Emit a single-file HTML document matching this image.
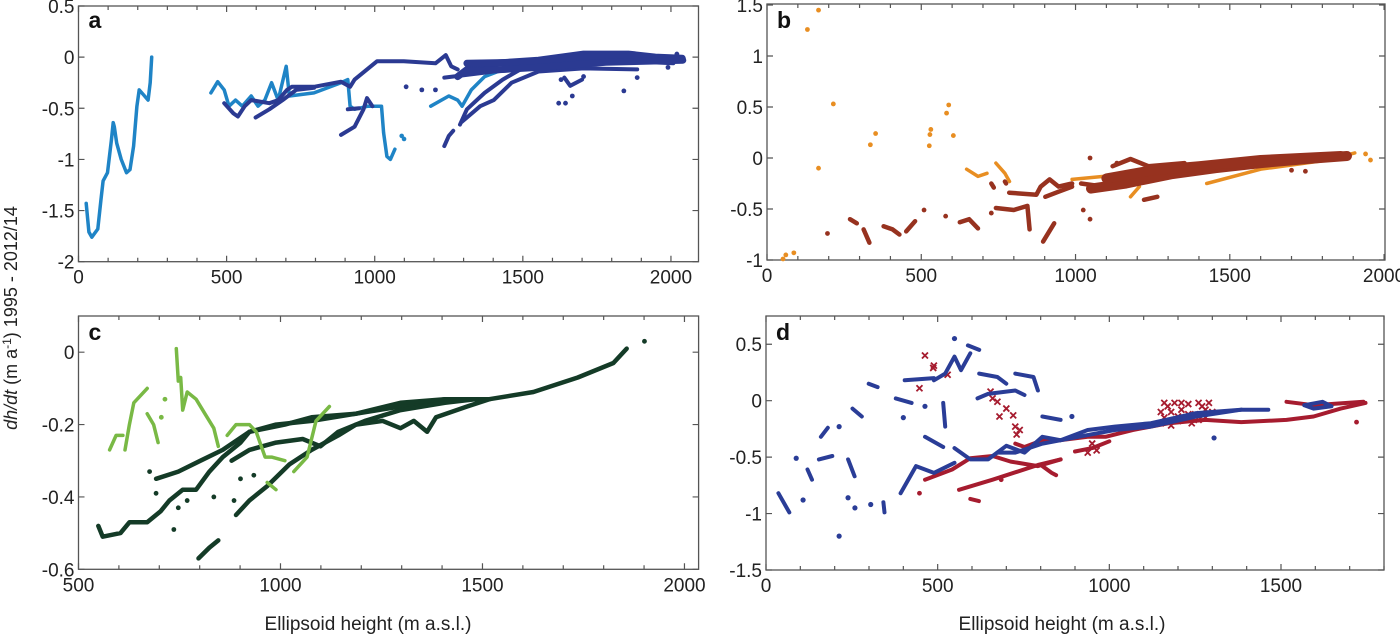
<!DOCTYPE html>
<html><head><meta charset="utf-8"><style>
html,body{margin:0;padding:0;background:#fff;}
svg{display:block;font-family:"Liberation Sans",Arial,sans-serif;}
</style></head><body>
<svg id="fig" width="1400" height="636" viewBox="0 0 1400 636" xmlns="http://www.w3.org/2000/svg">
<text transform="translate(17,318) rotate(-90)" text-anchor="middle" font-size="18" fill="#222"><tspan font-style="italic">dh/dt</tspan> (m a<tspan dy="-6" font-size="12">-1</tspan><tspan dy="6">) 1995 - 2012/14</tspan></text>
<text x="368" y="630" text-anchor="middle" font-size="19" fill="#222">Ellipsoid height (m a.s.l.)</text>
<text x="1062" y="630" text-anchor="middle" font-size="19" fill="#222">Ellipsoid height (m a.s.l.)</text>
</svg>
<script>
// ---------- data: panel a ----------
const aLightSegs = [
 [[26,-1.43],[35,-1.71],[45,-1.76],[65,-1.68],[76,-1.39],[83,-1.21],[98,-1.13],[111,-0.81],[117,-0.64],[121,-0.68],[129,-0.84],[144,-1.0],[162,-1.13],[174,-1.1],[186,-0.87],[197,-0.48],[205,-0.32],[220,-0.37],[235,-0.42],[242,-0.25],[247,0.0]],
 [[447,-0.35],[470,-0.24],[492,-0.32],[508,-0.48],[530,-0.42],[553,-0.48],[583,-0.38],[606,-0.48],[629,-0.42],[652,-0.25],[674,-0.42],[701,-0.09],[712,-0.38],[795,-0.35],[886,-0.25],[909,-0.22],[917,-0.48],[932,-0.51],[977,-0.48],[1023,-0.48],[1030,-0.74],[1041,-0.97],[1053,-1.0],[1068,-0.9]],
 [[1189,-0.48],[1250,-0.38],[1280,-0.42],[1295,-0.48],[1326,-0.32],[1371,-0.19],[1462,-0.09]]
];
const aLightDots = [[1091,-0.77],[1099,-0.8]];
const aDarkSegs = [
 [[492,-0.45],[523,-0.55],[538,-0.58],[561,-0.48],[583,-0.42],[644,-0.45],[674,-0.42],[704,-0.32],[720,-0.29],[795,-0.29],[886,-0.24],[917,-0.29],[932,-0.22],[1008,-0.04],[1098,-0.04],[1205,-0.06],[1240,0.02],[1258,-0.09],[1280,-0.12]],
 [[598,-0.59],[644,-0.51],[689,-0.42],[735,-0.32],[795,-0.3]],
 [[886,-0.76],[932,-0.68],[962,-0.51],[974,-0.4],[992,-0.48]],
 [[909,-0.51],[947,-0.5]],
 [[1235,-0.87],[1250,-0.77],[1265,-0.72]],
 [[1288,-0.66],[1311,-0.51],[1371,-0.35],[1432,-0.22],[1492,-0.12]],
 [[1295,-0.63],[1356,-0.48],[1402,-0.42],[1462,-0.25],[1553,-0.14],[1705,-0.11],[1886,-0.12]],
 [[1235,-0.2],[1402,-0.14],[1629,-0.09],[1856,-0.04],[2008,-0.06]],
 [[1640,-0.2],[1660,-0.28],[1700,-0.22]]
];
const aBandSegs = [
 [[1280,-0.19],[1326,-0.09],[1402,-0.06],[1553,-0.03],[1705,0.03],[1856,0.03],[1947,0.0],[2038,-0.01]],
 [[1311,-0.06],[1477,-0.05],[1629,-0.02],[1780,0.01],[2008,-0.01]],
 [[1311,-0.14],[1553,-0.1],[1780,-0.05],[2040,-0.03]]
];
const aDarkDots = [[1106,-0.29],[1159,-0.32],[1205,-0.32],[1621,-0.45],[1644,-0.45],[1667,-0.38],[1841,-0.33],[1886,-0.2],[1629,-0.22],[1705,-0.19],[2020,0.03],[1990,-0.1]];
// ---------- data: panel b ----------
const bOrangeSegs = [
 [[647,-0.11],[684,-0.18],[713,-0.15]],
 [[742,-0.05],[771,-0.15],[786,-0.23]],
 [[989,-0.21],[1091,-0.18]],
 [[1178,-0.38],[1207,-0.28]],
 [[1425,-0.25],[1600,-0.11],[1818,-0.02],[1905,0.05]]
];
const bOrangeDots = [[167,1.45],[131,1.26],[215,0.53],[167,-0.1],[61,-0.95],[87,-0.93],[52,-0.99],[335,0.13],[352,0.24],[531,0.28],[528,0.23],[526,0.12],[589,0.52],[582,0.44],[604,0.22],[1956,-0.02],[1940,0.04]];
const bBandSegs = [
 [[1050,-0.3],[1164,-0.25],[1309,-0.16],[1454,-0.1],[1600,-0.05],[1750,-0.01],[1880,0.02]],
 [[1100,-0.2],[1250,-0.12],[1400,-0.08],[1600,-0.02],[1860,0.02]]
];
const bRedSegs = [
 [[1018,-0.25],[1091,-0.28],[1236,-0.15],[1382,-0.08],[1527,-0.05],[1673,-0.02],[1862,0.03]],
 [[1120,-0.08],[1178,-0.01],[1236,-0.08],[1353,-0.05]],
 [[269,-0.6],[291,-0.64]],[[313,-0.7],[332,-0.83]],
 [[378,-0.67],[407,-0.7],[429,-0.75]],[[451,-0.72],[480,-0.62]],
 [[625,-0.63],[655,-0.6],[684,-0.69]],
 [[742,-0.49],[800,-0.51],[844,-0.47],[851,-0.7]],
 [[727,-0.25],[735,-0.29]],[[771,-0.23],[775,-0.25]],
 [[895,-0.82],[931,-0.64]],
 [[785,-0.34],[873,-0.36],[887,-0.28],[916,-0.21],[945,-0.28],[989,-0.25]],
 [[902,-0.38],[945,-0.33],[989,-0.28]],
 [[1222,-0.41],[1265,-0.38]]
];
const bRedDots = [[196,-0.74],[509,-0.51],[579,-0.57],[727,-0.54],[1047,0.0],[1025,-0.51],[1047,-0.6],[1134,-0.05],[1745,-0.13],[1700,-0.12]];
// ---------- data: panel c ----------
const cDarkSegs = [
 [[549,-0.48],[560,-0.51],[604,-0.5],[626,-0.47],[670,-0.47],[703,-0.44],[725,-0.41],[758,-0.38],[791,-0.38],[824,-0.33],[857,-0.29],[901,-0.25],[923,-0.22],[967,-0.21],[1011,-0.2],[1077,-0.18],[1187,-0.17],[1297,-0.15],[1407,-0.13],[1517,-0.13],[1626,-0.11],[1736,-0.07],[1824,-0.03],[1857,0.01]],
 [[692,-0.35],[747,-0.33],[802,-0.3],[857,-0.27],[923,-0.22],[989,-0.2],[1077,-0.19],[1187,-0.17],[1297,-0.14],[1407,-0.13],[1517,-0.13]],
 [[890,-0.45],[923,-0.41],[967,-0.37],[1022,-0.31],[1077,-0.27],[1143,-0.23],[1187,-0.2],[1253,-0.19],[1297,-0.21],[1330,-0.19],[1363,-0.22],[1385,-0.18],[1462,-0.15],[1517,-0.13]],
 [[879,-0.3],[923,-0.27],[989,-0.25],[1055,-0.24],[1099,-0.26],[1143,-0.22],[1209,-0.19],[1297,-0.16],[1407,-0.14],[1484,-0.13]],
 [[797,-0.57],[824,-0.54],[846,-0.52]]
];
const cDarkDots = [[676,-0.33],[692,-0.39],[736,-0.49],[747,-0.43],[769,-0.41],[835,-0.4],[885,-0.41],[901,-0.35],[934,-0.34],[1901,0.03]];
const cLightSegs = [
 [[577,-0.27],[593,-0.23],[610,-0.23]],
 [[615,-0.27],[626,-0.2],[637,-0.14],[670,-0.1]],
 [[670,-0.17],[686,-0.2],[697,-0.25]],
 [[742,0.01],[747,-0.08],[753,-0.07],[758,-0.16],[769,-0.11],[791,-0.13],[813,-0.17],[835,-0.21],[846,-0.26]],
 [[868,-0.23],[890,-0.2],[923,-0.2],[940,-0.22],[962,-0.29],[978,-0.29],[1011,-0.3]],
 [[967,-0.36],[989,-0.38]],
 [[1033,-0.33],[1066,-0.29],[1088,-0.19],[1121,-0.15]]
];
const cLightDots = [[714,-0.13],[705,-0.18]];
// ---------- data: panel d ----------
const dBlueSegs = [
 [[36,-0.82],[68,-0.99]],[[121,-0.61],[134,-0.7]],[[160,-0.32],[180,-0.24]],[[154,-0.52],[193,-0.49]],
 [[239,-0.52],[258,-0.67]],[[252,-0.07],[279,-0.14]],[[299,0.15],[325,0.12]],
 [[378,0.02],[424,-0.02]],[[404,0.18],[489,0.2]],
 [[392,-0.82],[437,-0.58],[489,-0.64],[549,-0.55]],
 [[463,-0.32],[516,-0.41]],[[516,-0.02],[522,-0.23]],
 [[489,0.18],[522,0.24],[549,0.39],[568,0.27],[595,0.42]],
 [[588,0.49],[621,0.45]],
 [[549,-0.42],[595,-0.52],[647,-0.52],[700,-0.4],[753,-0.46],[805,-0.32],[858,-0.35],[937,-0.26],[1016,-0.23],[1121,-0.2],[1253,-0.11],[1384,-0.08],[1463,-0.08]],
 [[621,0.24],[674,0.21],[700,0.15]],[[726,0.24],[779,0.21],[792,0.09]],
 [[616,0.02],[647,0.06],[726,0.09],[753,0.05]],
 [[674,-0.46],[726,-0.46],[805,-0.38],[910,-0.32],[1016,-0.26],[1121,-0.23],[1253,-0.14],[1384,-0.08]],
 [[1568,-0.04],[1621,-0.01],[1647,-0.05],[1595,-0.07],[1568,-0.04]],
 [[805,-0.14],[858,-0.17]],[[345,-0.99],[342,-0.9]]
];
const dBlueDots = [[88,-0.51],[108,-0.88],[213,-0.23],[239,-0.86],[259,-0.95],[305,-0.92],[1305,-0.33],[213,-1.2],[891,-0.14],[549,0.55],[463,-0.05],[400,-0.15]];
const dRedSegs = [
 [[562,-0.79],[660,-0.7],[792,-0.57],[858,-0.52]],
 [[463,-0.7],[542,-0.61],[595,-0.51],[660,-0.49],[713,-0.54],[792,-0.58],[858,-0.52]],
 [[805,-0.58],[832,-0.64],[845,-0.66]],
 [[726,-0.38],[753,-0.41],[805,-0.35],[858,-0.35],[937,-0.32],[989,-0.32],[1068,-0.26],[1174,-0.2],[1279,-0.17],[1384,-0.19],[1516,-0.17],[1595,-0.14],[1674,-0.07],[1746,-0.02]],
 [[1516,-0.01],[1595,-0.04],[1740,-0.01]],
 [[595,-0.87],[620,-0.89]],
 [[900,-0.45],[950,-0.42],[1000,-0.36]]
];
const dRedDots = [[1720,-0.19],[447,-0.82],[685,-0.7]];
const dRedCross = [[463,0.4],[489,0.31],[487,0.29],[447,0.11],[529,0.23],[654,0.08],[660,0.02],[674,-0.01],[680,-0.14],[700,-0.07],[720,-0.13],[726,-0.23],[739,-0.26],[730,-0.3],[937,-0.46],[963,-0.44],[950,-0.38],
 [1150,-0.1],[1170,-0.05],[1190,-0.02],[1210,-0.08],[1230,-0.03],[1250,-0.12],[1270,-0.05],[1290,-0.02],[1300,-0.1],[1160,-0.15],[1200,-0.18],[1240,-0.2],[1280,-0.15],[1180,-0.22],[1150,-0.2],
 [1160,-0.02],[1210,-0.02],[1260,-0.02],[1180,-0.1],[1230,-0.12],[1280,-0.08],[1200,-0.14],[1260,-0.17]];
// ---------- tick labels ----------
const aXTicks = [0,500,1000,1500,2000];
const aYTicks = [-2,-1.5,-1,-0.5,0,0.5];
const bXTicks = [0,500,1000,1500,2000];
const bYTicks = [-1,-0.5,0,0.5,1,1.5];
const cXTicks = [500,1000,1500,2000];
const cYTicks = [-0.6,-0.4,-0.2,0];
const dXTicks = [0,500,1000,1500];
const dYTicks = [-1.5,-1,-0.5,0,0.5];

const NS='http://www.w3.org/2000/svg';
const svg=document.getElementById('fig');
function el(tag,attrs,parent){const e=document.createElementNS(NS,tag);for(const k in attrs)e.setAttribute(k,attrs[k]);(parent||svg).appendChild(e);return e;}

function panel(id,box,xd,yd,xt,yt,labelY){
  const g=el('g',{});
  
  
  const sx=v=>box.l+(v-xd[0])/(xd[1]-xd[0])*(box.r-box.l);
  const sy=v=>box.b-(v-yd[0])/(yd[1]-yd[0])*(box.b-box.t);
  const fr=el('rect',{x:box.l,y:box.t,width:box.r-box.l,height:box.b-box.t,fill:'none',stroke:'#555','stroke-width':1.3},g);
  
  
  let d='';
  for(let v=Math.ceil(xd[0]/100)*100; v<=xd[1]; v+=100){const x=sx(v);const L=(v%500===0)?6:4;d+=`M${x},${box.b}v${-L}M${x},${box.t}v${L}`;}
  yt.forEach(v=>{const y=sy(v);d+=`M${box.l},${y}h6M${box.r},${y}h-6`;});
  el('path',{d:d,stroke:'#555','stroke-width':1.2,fill:'none'},g);
  xt.forEach(v=>{const t=el('text',{x:sx(v),y:box.b+22,'text-anchor':'middle','font-size':19,fill:'#222'},g);t.textContent=v;
    
    });
  yt.forEach(v=>{const t=el('text',{x:box.l-4,y:sy(v)+7,'text-anchor':'end','font-size':19,fill:'#222'},g);t.textContent=v;
    
    });
  const lab=el('text',{x:box.l+10,y:box.t+labelY,'font-size':23,'font-weight':'bold',fill:'#111'},g);
  lab.textContent=id;
  
  
  const clip=el('g',{},g);
  return {g:clip,sx,sy};
}
function segs(p,arr,color,w,name){
  arr.forEach(s=>{const d=s.map((q,i)=>(i?'L':'M')+p.sx(q[0]).toFixed(1)+','+p.sy(q[1]).toFixed(1)).join('');
    const e=el('path',{d:d,stroke:color,'stroke-width':w,fill:'none','stroke-linecap':'round','stroke-linejoin':'round'},p.g);
    
    });
}
function dots(p,arr,color,r,name){
  arr.forEach(q=>{const e=el('circle',{cx:p.sx(q[0]),cy:p.sy(q[1]),r:r,fill:color},p.g);
    
    });
}
function crosses(p,arr,color,name){
  arr.forEach(q=>{const x=p.sx(q[0]),y=p.sy(q[1]);
    const e=el('path',{d:`M${x-3},${y-3}L${x+3},${y+3}M${x-3},${y+3}L${x+3},${y-3}`,stroke:color,'stroke-width':1.8},p.g);
    
    });
}
const LB='#1f84c6',DB='#2b3a92',OR='#e88e22',RB='#97321f',DG='#143b27',LG='#79b945',BL='#2a3d97',RD='#a61c2f';
const pa=panel('a',{l:78.5,r:698.5,t:6,b:261.7},[0,2093],[-2,0.5],aXTicks,aYTicks,22);
segs(pa,aLightSegs,LB,3.5,'series-light-blue');dots(pa,aLightDots,LB,2.3,'point-light-blue');
segs(pa,aDarkSegs,DB,4,'series-dark-blue');segs(pa,aBandSegs,DB,7,'band-dark-blue');dots(pa,aDarkDots,DB,2.4,'point-dark-blue');
const pb=panel('b',{l:767,r:1385,t:4,b:260},[0,2003],[-1,1.51],bXTicks,bYTicks,24);
segs(pb,bOrangeSegs,OR,3.5,'series-orange');dots(pb,bOrangeDots,OR,2.4,'point-orange');
segs(pb,bRedSegs,RB,4.5,'series-brown');segs(pb,bBandSegs,RB,10,'band-brown');dots(pb,bRedDots,RB,2.4,'point-brown');
const pc=panel('c',{l:78.5,r:698.6,t:316,b:569.3},[500,2035],[-0.6,0.1],cXTicks,cYTicks,24);
segs(pc,cDarkSegs,DG,4.5,'series-dark-green');dots(pc,cDarkDots,DG,2.4,'point-dark-green');
segs(pc,cLightSegs,LG,3.5,'series-light-green');dots(pc,cLightDots,LG,2.4,'point-light-green');
const pd=panel('d',{l:766,r:1384,t:316,b:570},[0,1800],[-1.5,0.75],dXTicks,dYTicks,24);
segs(pd,dRedSegs,RD,4,'series-red');dots(pd,dRedDots,RD,2.4,'point-red');crosses(pd,dRedCross,RD,'cross-red');
segs(pd,dBlueSegs,BL,4,'series-blue');dots(pd,dBlueDots,BL,2.6,'point-blue');
</script>
</body></html>
